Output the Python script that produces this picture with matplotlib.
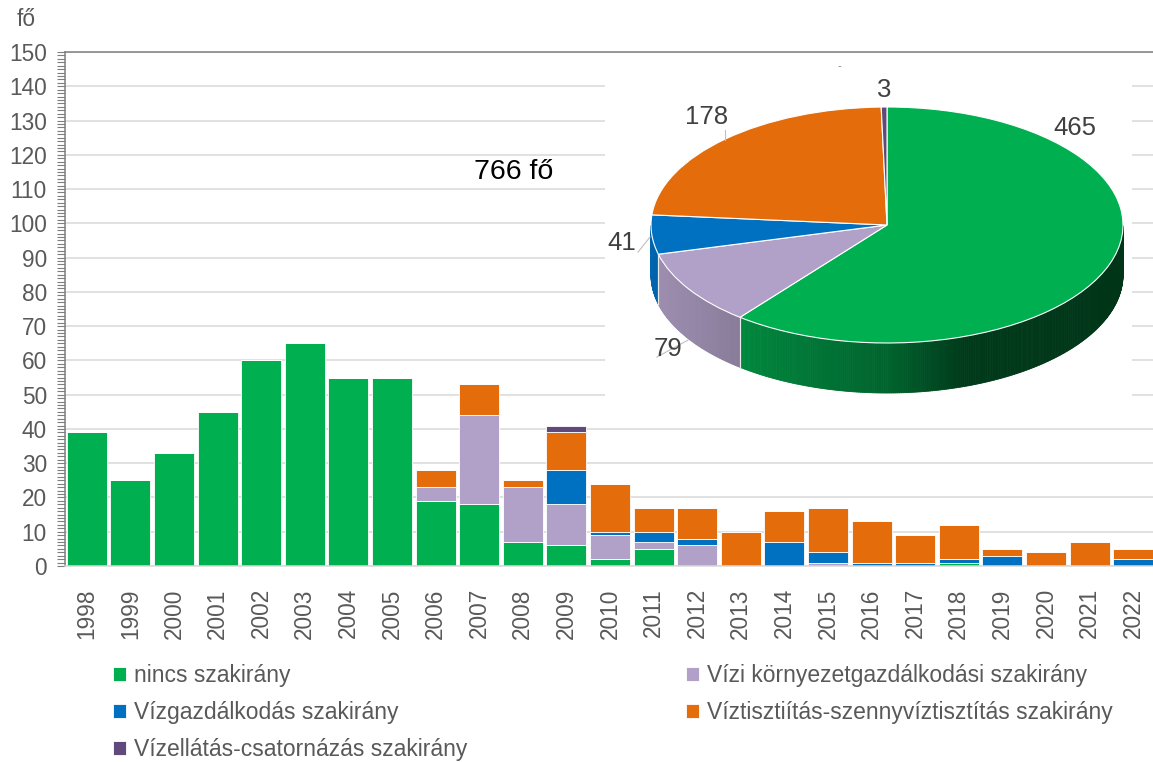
import numpy as np
import matplotlib
matplotlib.use("Agg")
import matplotlib.pyplot as plt
from matplotlib.ticker import MultipleLocator
from matplotlib.patches import Polygon

plt.rcParams['font.family'] = ['Liberation Sans', 'DejaVu Sans']

# --- adatok ---
years = [str(y) for y in range(1998, 2023)]
nincs = [39, 25, 33, 45, 60, 65, 55, 55, 19, 18, 7, 6, 2, 5, 0, 0, 0, 0, 0, 0, 1, 0, 0, 0, 0]
vizi_korny = [0, 0, 0, 0, 0, 0, 0, 0, 4, 26, 16, 12, 7, 2, 6, 0, 0, 1, 0, 0, 0, 0, 0, 0, 0]
vizgazd = [0, 0, 0, 0, 0, 0, 0, 0, 0, 0, 0, 10, 1, 3, 2, 0, 7, 3, 1, 1, 1, 3, 0, 0, 2]
viztiszt = [0, 0, 0, 0, 0, 0, 0, 0, 5, 9, 2, 11, 14, 7, 9, 10, 9, 13, 12, 8, 10, 2, 4, 7, 3]
vizellatas = [0, 0, 0, 0, 0, 0, 0, 0, 0, 0, 0, 2, 0, 0, 0, 0, 0, 0, 0, 0, 0, 0, 0, 0, 0]

pie_values = [465, 79, 41, 178, 3]
pie_labels = ['465', '79', '41', '178', '3']
total_label = '766 fő'

names = ['nincs szakirány',
         'Vízi környezetgazdálkodási szakirány',
         'Vízgazdálkodás szakirány',
         'Víztisztiítás-szennyvíztisztítás szakirány',
         'Vízellátás-csatornázás szakirány']
c_green = '#00B050'
c_lav = '#B1A0C7'
c_blue = '#0070C0'
c_orange = '#E46C0A'
c_dpurp = '#604A7B'
bar_colors = [c_green, c_lav, c_blue, c_orange, c_dpurp]
pie_colors = [c_green, c_lav, c_blue, c_orange, c_dpurp]

txt = '#595959'
W, H = 1153, 762
fig = plt.figure(figsize=(W / 100, H / 100), dpi=100)

# fő diagram: halmozott oszlopok
ax = fig.add_axes([65 / W, 1 - 566 / H, 1090 / W, 514 / H])
x = np.arange(len(years))
bottom = np.zeros(len(years))
containers = []
for vals, col in zip([nincs, vizi_korny, vizgazd, viztiszt, vizellatas], bar_colors):
    vals = np.array(vals, dtype=float)
    bc = ax.bar(x, vals, 0.92, bottom=bottom, color=col, edgecolor='white',
                linewidth=0.6, zorder=2)
    containers.append(bc)
    bottom += vals

ax.set_xlim(-0.5, len(years) - 0.5)
ax.set_ylim(0, 150)
ax.set_yticks(range(0, 151, 10))
ax.yaxis.set_minor_locator(MultipleLocator(1))
ax.set_xticks(x)
ax.set_xticklabels(years, rotation=90)
ax.tick_params(axis='x', length=0, pad=16, labelsize=16.3, labelcolor=txt)
ax.tick_params(axis='y', which='both', length=6, width=0.8, color='#7f7f7f',
               labelsize=16.3, labelcolor=txt, pad=7)
ax.grid(axis='y', color='#d9d9d9', linewidth=1.1, zorder=0)
ax.set_axisbelow(True)
ax.spines['right'].set_visible(False)
ax.spines['left'].set_color('#7f7f7f')
ax.spines['top'].set_color('#7f7f7f')
ax.spines['bottom'].set_color('#d9d9d9')
for sp in ['left', 'top', 'bottom']:
    ax.spines[sp].set_linewidth(1.1)

fig.text(17 / W, 1 - 19 / H, 'fő', fontsize=16.3, color=txt, va='center', ha='left')
fig.text(474 / W, 1 - 172 / H, total_label, fontsize=20.5, color='black', va='center', ha='left')

# jelmagyarázat két oszlopban
h = [c.patches[0] for c in containers]
leg_kw = dict(frameon=False, fontsize=16.5, handlelength=0.55, handleheight=0.55,
              handletextpad=0.35, labelspacing=0.62, borderpad=0, borderaxespad=0,
              labelcolor=txt, loc='upper left')
fig.legend([h[0], h[2], h[4]], [names[0], names[2], names[4]],
           bbox_to_anchor=(113 / W, 1 - 664 / H), **leg_kw)
fig.legend([h[1], h[3]], [names[1], names[3]],
           bbox_to_anchor=(686 / W, 1 - 664 / H), **leg_kw)

# beágyazott 3D hatású kördiagram
cx, cy, rx, ry, depth = 887, 225, 236, 118, 50
l, r, t, b = 605, 1132, 60, 405
pax = fig.add_axes([l / W, 1 - b / H, (r - l) / W, (b - t) / H])
wedges, _ = pax.pie(pie_values, colors=pie_colors, startangle=90, counterclock=False,
                    wedgeprops=dict(edgecolor='white', linewidth=0.8))
pax.set_aspect('auto')
pax.set_xlim((l - cx) / rx, (r - cx) / rx)
pax.set_ylim((cy - b) / ry, (cy - t) / ry)
pax.set_frame_on(True)
pax.set_facecolor('white')
for sp in pax.spines.values():
    sp.set_visible(False)
pax.set_xticks([])
pax.set_yticks([])

d = depth / ry


def shade(c):
    return np.interp(c, [-1, -0.62, 0.0, 0.33, 1], [0.9, 0.77, 0.57, 0.33, 0.3])


for w, col in zip(wedges, pie_colors):
    base = np.array(matplotlib.colors.to_rgb(col))
    ts = np.linspace(w.theta1, w.theta2, max(2, int(abs(w.theta2 - w.theta1)) * 2 + 1))
    for a0, a1 in zip(ts[:-1], ts[1:]):
        mid = np.radians((a0 + a1) / 2)
        if np.sin(mid) >= 0:
            continue
        r0, r1 = np.radians(a0), np.radians(a1)
        pts = [(np.cos(r0), np.sin(r0)), (np.cos(r1), np.sin(r1)),
               (np.cos(r1), np.sin(r1) - d), (np.cos(r0), np.sin(r0) - d)]
        fc = base * shade(np.cos(mid))
        pax.add_patch(Polygon(pts, closed=True, facecolor=fc, edgecolor=fc,
                              linewidth=0.6, zorder=0.9))
    for a in (w.theta1, w.theta2):
        ra = np.radians(a)
        if np.sin(ra) < -0.02:
            pax.plot([np.cos(ra)] * 2, [np.sin(ra), np.sin(ra) - d], color='#e8e8e8',
                     linewidth=0.8, zorder=0.95)

lab_color = '#404040'
lab_pos = [(0.797, 0.822), (-0.928, -1.05), (-1.122, -0.153), (-0.763, 0.915), (-0.013, 1.144)]
for s, (px, py) in zip(pie_labels, lab_pos):
    pax.text(px, py, s, fontsize=18.5, color=lab_color, ha='center', va='center')
# vezető vonalak
pax.plot([-1.055, -1.004], [-0.229, -0.102], color='#bfbfbf', linewidth=0.8)
pax.plot([-0.975, -0.843], [-1.119, -0.975], color='#bfbfbf', linewidth=0.8)
pax.plot([-0.686, -0.686], [0.805, 0.720], color='#bfbfbf', linewidth=0.8)
pax.text(-0.2, 1.347, '-', fontsize=8, color='#7f7f7f', ha='center', va='center')

fig.savefig('out.png', dpi=100)
